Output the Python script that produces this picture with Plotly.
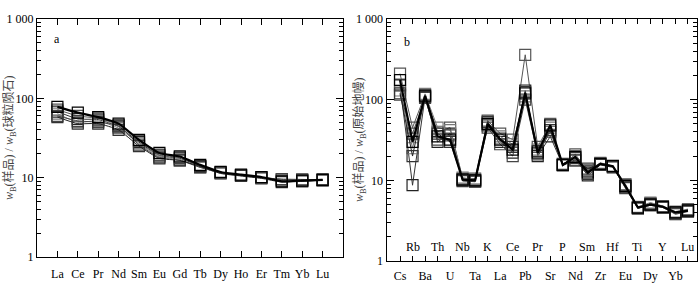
import plotly.graph_objects as go

# ---------------- data ----------------
ree_labels = ["La", "Ce", "Pr", "Nd", "Sm", "Eu", "Gd", "Tb", "Dy", "Ho", "Er", "Tm", "Yb", "Lu"]
ree_s1 = [78, 66, 58, 48, 30, 20.5, 18.5, 14.5, 11.8, 10.9, 10.2, 9.0, 9.2, 9.4]
ree_s2 = [72, 60, 56, 46, 29, 19.5, 18.0, 14.0, 11.5, 10.7, 10.0, 9.2, 9.1, 9.3]
ree_s3 = [68, 55, 54, 44, 28, 19.0, 17.5, 14.0, 11.6, 10.8, 10.1, 9.5, 9.4, 9.5]
ree_s4 = [64, 50, 52, 42, 27, 18.5, 17.0, 13.5, 11.4, 10.6, 9.9, 9.3, 9.3, 9.2]
ree_s5 = [60, 52, 50, 45, 26, 18.0, 16.5, 13.5, 11.7, 10.8, 10.0, 9.6, 9.5, 9.4]
ree_s6 = [58, 48, 48, 40, 25, 17.5, 16.5, 13.8, 11.3, 10.5, 9.8, 8.8, 9.0, 9.3]

spider_labels = ["Cs", "Rb", "Ba", "Th", "U", "Nb", "Ta", "K", "La", "Ce", "Pb", "Pr",
                 "Sr", "P", "Nd", "Sm", "Zr", "Hf", "Eu", "Ti", "Dy", "Y", "Yb", "Lu"]
sp_s1 = [175, 30, 112, 35, 32, 10.2, 10.0, 50, 32, 24, 120, 22, 48, 15.5, 19.5, 12.5, 16.0, 15.0, 8.5, 4.6, 5.0, 4.7, 4.0, 4.2]
sp_s2 = [210, 45, 115, 40, 45, 10.5, 10.5, 55, 38, 32, 360, 26, 50, 15.5, 21.0, 13.0, 16.5, 15.0, 8.8, 4.6, 5.2, 4.8, 3.9, 4.3]
sp_s3 = [150, 8.7, 108, 30, 38, 9.8, 9.6, 48, 30, 22, 130, 20, 35, 15.3, 18.0, 11.5, 15.5, 14.5, 8.2, 4.5, 5.0, 4.6, 3.8, 4.1]
sp_s4 = [130, 25, 118, 45, 42, 10.8, 10.2, 52, 35, 28, 110, 24, 45, 15.8, 20.0, 13.5, 16.2, 15.2, 9.0, 4.7, 5.3, 4.8, 4.1, 4.4]
sp_s5 = [115, 38, 105, 32, 36, 10.0, 9.8, 45, 28, 20, 100, 21, 40, 15.5, 17.5, 14.0, 15.8, 14.8, 8.0, 4.5, 4.9, 4.6, 3.9, 4.2]
sp_s6 = [120, 20, 110, 38, 30, 10.3, 10.0, 53, 33, 26, 125, 23, 42, 16.0, 19.0, 12.0, 16.0, 15.0, 8.6, 4.6, 5.1, 4.7, 4.0, 4.3]

y_tick_vals = [1, 10, 100, 1000]
y_tick_text = ["1", "10", "100", "1 000"]

ree_series = [ree_s2, ree_s3, ree_s4, ree_s5, ree_s6, ree_s1]
sp_series = [sp_s2, sp_s3, sp_s4, sp_s5, sp_s6, sp_s1]

# ---------------- styles ----------------
styles = [
    dict(lc="#555555", lw=1, mc="#555555"),
    dict(lc="#333333", lw=1, mc="#222222"),
    dict(lc="#777777", lw=1, mc="#777777"),
    dict(lc="#444444", lw=1, mc="#444444"),
    dict(lc="#222222", lw=1, mc="#333333"),
    dict(lc="#000000", lw=2.2, mc="#000000"),
]

SERIF = "Liberation Serif, Times New Roman, serif"
CJK = "Liberation Serif, Noto Sans CJK SC, serif"

fig = go.Figure()

for vals, st in zip(ree_series, styles):
    fig.add_trace(go.Scatter(
        x=list(range(len(ree_labels))), y=vals, xaxis="x", yaxis="y",
        mode="lines+markers",
        line=dict(color=st["lc"], width=st["lw"], shape="spline", smoothing=0.5),
        marker=dict(symbol="square-open", size=11, color=st["mc"], line=dict(width=1.2, color=st["mc"])),
        showlegend=False, hoverinfo="skip"))

for vals, st in zip(sp_series, styles):
    fig.add_trace(go.Scatter(
        x=list(range(len(spider_labels))), y=vals, xaxis="x2", yaxis="y2",
        mode="lines+markers",
        line=dict(color=st["lc"], width=st["lw"]),
        marker=dict(symbol="square-open", size=11, color=st["mc"], line=dict(width=1.2, color=st["mc"])),
        showlegend=False, hoverinfo="skip"))

minor_vals = [d * 10 ** e for e in range(3) for d in range(2, 10)]

def yaxis(domain, anchor):
    return dict(
        type="log", range=[0, 3], domain=domain, anchor=anchor, automargin=False,
        tickmode="array", tickvals=y_tick_vals, ticktext=y_tick_text,
        ticks="inside", ticklen=7, tickwidth=1, tickcolor="#000",
        minor=dict(ticks="inside", ticklen=4, tickwidth=1, tickcolor="#000",
                   tickmode="array", tickvals=minor_vals, showgrid=False),
        showline=True, linecolor="#000", linewidth=1, mirror="ticks",
        showgrid=False, zeroline=False,
        tickfont=dict(family=SERIF, size=12, color="#000"),
    )

fig.update_layout(
    width=700, height=292,
    margin=dict(l=0, r=0, t=0, b=0, autoexpand=False),
    paper_bgcolor="white", plot_bgcolor="white",
    xaxis=dict(
        domain=[37 / 700, 343 / 700], anchor="y", range=[-1, 14], automargin=False,
        tickmode="array", tickvals=list(range(len(ree_labels))), ticktext=ree_labels,
        ticks="inside", ticklen=6, tickcolor="#000",
        showline=True, linecolor="#000", linewidth=1, mirror="ticks",
        showgrid=False, zeroline=False, ticklabelstandoff=6,
        tickfont=dict(family=SERIF, size=12, color="#000"),
    ),
    yaxis=yaxis([(292 - 257) / 292, (292 - 19) / 292], "x"),
    xaxis2=dict(
        domain=[386.5 / 700, 697 / 700], anchor="y2", range=[-1.08, 23.72], automargin=False,
        tickmode="array", tickvals=list(range(len(spider_labels))),
        ticktext=[lab if i % 2 == 0 else "" for i, lab in enumerate(spider_labels)],
        ticks="inside", ticklen=5, tickcolor="#000",
        showline=True, linecolor="#000", linewidth=1, mirror="ticks",
        showgrid=False, zeroline=False, ticklabelstandoff=4,
        tickfont=dict(family=SERIF, size=12, color="#000"),
    ),
    yaxis2=yaxis([(292 - 261) / 292, (292 - 19) / 292], "x2"),
)

ann = []
# inner top-row labels for panel b
for i, lab in enumerate(spider_labels):
    if i % 2 == 1:
        ann.append(dict(x=i, y=0.058, xref="x2", yref="y2 domain", text=lab, showarrow=False,
                        font=dict(family=SERIF, size=12, color="#000"), xanchor="center", yanchor="middle"))
ann.append(dict(x=57 / 700, y=(292 - 39) / 292, xref="paper", yref="paper", text="a", showarrow=False,
                font=dict(family=SERIF, size=12, color="#000"), xanchor="center", yanchor="middle"))
ann.append(dict(x=407 / 700, y=(292 - 42) / 292, xref="paper", yref="paper", text="b", showarrow=False,
                font=dict(family=SERIF, size=12, color="#000"), xanchor="center", yanchor="middle"))
ann.append(dict(x=9 / 700, y=(292 - 138) / 292, xref="paper", yref="paper",
                text="<i>w</i><sub>B</sub>(样品) / <i>w</i><sub>B</sub>(球粒陨石)", textangle=-90, showarrow=False,
                font=dict(family=CJK, size=12, color="#444"), xanchor="center", yanchor="middle"))
ann.append(dict(x=359 / 700, y=(292 - 140) / 292, xref="paper", yref="paper",
                text="<i>w</i><sub>B</sub>(样品) / <i>w</i><sub>B</sub>(原始地幔)", textangle=-90, showarrow=False,
                font=dict(family=CJK, size=12, color="#444"), xanchor="center", yanchor="middle"))
fig.update_layout(annotations=ann)

fig.write_html("out.html", config={"displayModeBar": False},
               post_script="document.body.style.margin='0';")
